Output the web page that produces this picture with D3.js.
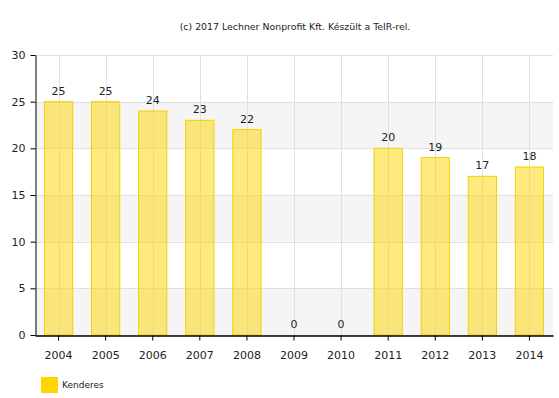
<!DOCTYPE html>
<html>
<head>
<meta charset="utf-8">
<script src="https://cdn.jsdelivr.net/npm/d3@7"></script>
<style>
  body { margin: 0; background: #fff; }
  text { font-family: Verdana, "DejaVu Sans", sans-serif; }
</style>
</head>
<body>
<div id="plot"></div>
<script>
const years = ["2004", "2005", "2006", "2007", "2008", "2009", "2010", "2011", "2012", "2013", "2014"];
const values = [25, 25, 24, 23, 22, 0, 0, 20, 19, 17, 18];
const yTicks = [0, 5, 10, 15, 20, 25, 30];
const seriesName = "Kenderes";
const credit = "(c) 2017 Lechner Nonprofit Kft. Készült a TeIR-rel.";

const width = 559;
const height = 398;
const margin = { top: 55, right: 6, bottom: 63, left: 35 };

const svg = d3.select("div#plot")
  .append("svg")
  .attr("width", width)
  .attr("height", height);

const x = d3.scaleBand()
  .domain(years)
  .range([margin.left, width - margin.right])
  .paddingInner(0.4)
  .paddingOuter(0.2);

const y = d3.scaleLinear()
  .domain([0, 30])
  .range([height - margin.bottom, margin.top]);

// alternating bands
const bands = d3.pairs(yTicks).filter((d, i) => i % 2 === 0);
svg.append("g").selectAll("rect")
  .data(bands)
  .join("rect")
  .attr("x", margin.left)
  .attr("width", width - margin.right - margin.left)
  .attr("y", d => y(d[1]))
  .attr("height", d => y(d[0]) - y(d[1]))
  .attr("fill", "#f5f5f5");

// horizontal grid
svg.append("g").selectAll("line")
  .data(yTicks)
  .join("line")
  .attr("x1", margin.left)
  .attr("x2", width - margin.right)
  .attr("y1", d => Math.round(y(d)) + 0.5)
  .attr("y2", d => Math.round(y(d)) + 0.5)
  .attr("stroke", "#e0e0e0");

// vertical grid
svg.append("g").selectAll("line")
  .data(years)
  .join("line")
  .attr("x1", d => Math.round(x(d) + x.bandwidth() / 2) + 0.5)
  .attr("x2", d => Math.round(x(d) + x.bandwidth() / 2) + 0.5)
  .attr("y1", margin.top)
  .attr("y2", height - margin.bottom)
  .attr("stroke", "#e0e0e0");

// bars
svg.append("g").selectAll("rect")
  .data(values)
  .join("rect")
  .attr("x", (d, i) => x(years[i]))
  .attr("width", x.bandwidth())
  .attr("y", d => y(d))
  .attr("height", d => y(0) - y(d))
  .attr("fill", "rgba(255, 213, 0, 0.5)")
  .attr("stroke", "#f5d000")
  .attr("stroke-width", 1);

// value labels
svg.append("g").selectAll("text")
  .data(values)
  .join("text")
  .attr("x", (d, i) => x(years[i]) + x.bandwidth() / 2)
  .attr("y", d => y(d) - 7)
  .attr("text-anchor", "middle")
  .style("font-size", "11px")
  .attr("fill", "#222")
  .text(d => d);

// y axis
const yAxis = svg.append("g")
  .attr("transform", `translate(${margin.left + 0.5},0)`)
  .call(d3.axisLeft(y).tickValues(yTicks).tickSize(5).tickSizeOuter(0));
yAxis.select(".domain").attr("stroke", "#000");
yAxis.selectAll(".tick line").attr("stroke", "#000");
yAxis.selectAll("text").style("font-size", "11px").attr("fill", "#222").attr("x", -10);

// x axis
const xAxis = svg.append("g")
  .attr("transform", `translate(0,${height - margin.bottom + 0.5})`)
  .call(d3.axisBottom(x).tickSize(5).tickSizeOuter(0));
xAxis.select(".domain").attr("stroke", "#000").attr("stroke-width", 1.5);
xAxis.selectAll(".tick line").attr("stroke", "#000");
xAxis.selectAll("text").style("font-size", "11px").attr("fill", "#222").attr("dy", "1.4em");

// credit title
svg.append("text")
  .attr("x", 295)
  .attr("y", 30)
  .attr("text-anchor", "middle")
  .style("font-size", "9.4px")
  .attr("fill", "#222")
  .text(credit);

// legend
svg.append("rect")
  .attr("x", 41)
  .attr("y", 377)
  .attr("width", 17)
  .attr("height", 16)
  .attr("fill", "#ffd400");
svg.append("text")
  .attr("x", 62)
  .attr("y", 388)
  .style("font-size", "9px")
  .attr("fill", "#222")
  .text(seriesName);
</script>
</body>
</html>
